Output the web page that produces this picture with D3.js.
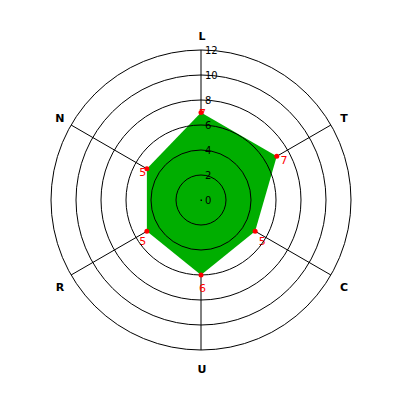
<!DOCTYPE html>
<html>
<head>
<meta charset="utf-8">
<script src="https://cdn.jsdelivr.net/npm/d3@7"></script>
<style>
  body { margin: 0; background: #fff; }
  svg { display: block; }
</style>
</head>
<body>
<svg width="400" height="400"></svg>
<script>
// Radar chart data
let axes = ['L', 'T', 'C', 'U', 'R', 'N'];
let values = [7, 7, 5, 6, 5, 5];
let ringTicks = [0, 2, 4, 6, 8, 10, 12];

let svg = d3.select('svg');
let cx = 201, cy = 200;
let maxR = 150;

let r = d3.scaleLinear().domain([0, 12]).range([0, maxR]);
let angle = d3.scalePoint().domain(axes).range([0, 2 * Math.PI * 5 / 6]);

function px(a, rad) { return cx + rad * Math.sin(angle(a)); }
function py(a, rad) { return cy - rad * Math.cos(angle(a)); }

let g = svg.append('g');

// Spokes (under the area)
g.selectAll('line.spoke')
    .data(axes)
    .enter().append('line')
    .attr('x1', cx).attr('y1', cy)
    .attr('x2', d => px(d, maxR))
    .attr('y2', d => py(d, maxR))
    .attr('stroke', '#000')
    .attr('stroke-width', 1);

// Axis labels
g.selectAll('text.axis')
    .data(axes)
    .enter().append('text')
    .attr('x', d => px(d, 164) + 1)
    .attr('y', d => py(d, 164) + (Math.cos(angle(d)) < -0.1 ? 5 : 0))
    .attr('dy', '0.35em')
    .attr('text-anchor', 'middle')
    .attr('font-family', 'DejaVu Sans, sans-serif')
    .attr('font-weight', 'bold')
    .attr('font-size', '11px')
    .text(d => d);

let pts = axes.map((a, i) => [px(a, r(values[i])), py(a, r(values[i]))]);

// Value labels (drawn under the area)
g.selectAll('text.val')
    .data(axes)
    .enter().append('text')
    .attr('x', (d, i) => px(d, r(values[i]) + 6.5) + 1.5)
    .attr('y', (d, i) => py(d, r(values[i]) + 6.5) + 7)
    .attr('dy', '0.35em')
    .attr('text-anchor', 'middle')
    .attr('font-family', 'DejaVu Sans, sans-serif')
    .attr('font-size', '11px')
    .attr('fill', '#ff0000')
    .text((d, i) => values[i]);

// Area
g.append('path')
    .attr('d', d3.line()(pts) + 'Z')
    .attr('fill', '#00ae00')
    .attr('stroke', 'none');

// Rings (over the area)
g.selectAll('circle.ring')
    .data(ringTicks.filter(d => d > 0))
    .enter().append('circle')
    .attr('class', 'ring')
    .attr('cx', cx).attr('cy', cy)
    .attr('r', d => r(d))
    .attr('fill', 'none')
    .attr('stroke', '#000')
    .attr('stroke-width', 1);

// Center dot
g.append('rect')
    .attr('x', cx - 0.5).attr('y', cy - 0.5)
    .attr('width', 1.5).attr('height', 1.5)
    .attr('fill', '#000');

// Ring labels along first axis
g.selectAll('text.tick')
    .data(ringTicks)
    .enter().append('text')
    .attr('x', cx + 4)
    .attr('y', d => cy - r(d))
    .attr('dy', '0.35em')
    .attr('font-family', 'DejaVu Sans, sans-serif')
    .attr('font-size', '10px')
    .attr('fill', '#000')
    .text(d => d);

// Markers
g.selectAll('circle.pt')
    .data(pts)
    .enter().append('circle')
    .attr('cx', d => d[0]).attr('cy', d => d[1])
    .attr('r', 2.5)
    .attr('fill', '#ff0000');
</script>
</body>
</html>
